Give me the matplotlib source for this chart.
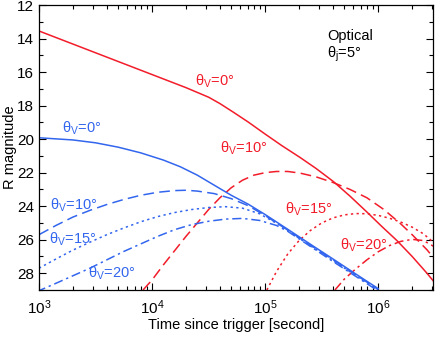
import numpy as np
import matplotlib
matplotlib.use("Agg")
import matplotlib.pyplot as plt
from matplotlib.ticker import MultipleLocator, LogLocator

plt.rcParams['font.family'] = ['Liberation Sans', 'DejaVu Sans']
plt.rcParams['mathtext.fontset'] = 'custom'
plt.rcParams['mathtext.rm'] = 'Liberation Sans'
plt.rcParams['mathtext.it'] = 'Liberation Sans'
plt.rcParams['mathtext.default'] = 'regular'

RED = '#f21c2a'
BLUE = '#3366ee'

# ---- data (log10 of time in seconds, R magnitude) ----
red0_logt = [3.0, 3.5, 4.0, 4.3, 4.5, 4.6, 4.72, 4.85, 5.0, 5.15, 5.31, 5.45, 5.605,
             5.75, 5.90, 6.03, 6.165, 6.3, 6.431, 6.504]
red0_mag = [13.55, 14.85, 16.15, 16.93, 17.5, 17.88, 18.4, 18.98, 19.7, 20.4, 21.1, 21.75, 22.54,
            23.4, 24.35, 25.2, 26.05, 27.0, 28.0, 28.6]

red10_logt = [3.92, 4.0, 4.1, 4.2, 4.3, 4.4, 4.5, 4.6, 4.7, 4.8, 4.9, 5.0, 5.1, 5.2, 5.31,
              5.45, 5.605, 5.75, 5.9, 6.05, 6.195, 6.3, 6.431, 6.504]
red10_mag = [29.0, 28.4, 27.5, 26.65, 25.8, 25.0, 24.2, 23.5, 22.9, 22.45, 22.15, 22.0, 21.93, 21.93, 22.03,
             22.25, 22.6, 23.0, 23.5, 24.2, 25.03, 25.7, 26.6, 27.2]

red15_logt = [5.015, 5.1, 5.2, 5.3, 5.4, 5.5, 5.6, 5.7, 5.8, 5.9, 6.0, 6.1, 6.2, 6.3, 6.4, 6.504]
red15_mag = [29.0, 27.9, 26.85, 26.05, 25.45, 25.0, 24.7, 24.52, 24.44, 24.45, 24.55, 24.72, 24.95,
             25.25, 25.65, 26.25]

red20_logt = [5.617, 5.7, 5.8, 5.9, 6.0, 6.1, 6.2, 6.3, 6.4, 6.504]
red20_mag = [29.0, 28.35, 27.75, 27.2, 26.72, 26.35, 26.1, 25.98, 26.05, 26.45]

blue0_logt = [3.0, 3.3, 3.5, 3.7, 3.9, 4.1, 4.25, 4.4, 4.55, 4.7, 4.85, 5.0, 5.2, 5.4, 5.6, 5.8, 6.0]
blue0_mag = [19.92, 20.05, 20.22, 20.48, 20.82, 21.25, 21.65, 22.15, 22.75, 23.35, 23.88, 24.5,
             25.38, 26.27, 27.15, 28.04, 28.92]

blue10_logt = [3.0, 3.15, 3.3, 3.45, 3.6, 3.75, 3.9, 4.05, 4.2, 4.3, 4.4, 4.55, 4.7, 4.85, 5.0,
               5.2, 5.4, 5.6, 5.8, 6.0]
blue10_mag = [25.7, 25.15, 24.65, 24.25, 23.9, 23.6, 23.35, 23.17, 23.07, 23.05, 23.1, 23.25, 23.55,
              23.97, 24.56, 25.43, 26.32, 27.2, 28.09, 28.97]

blue15_logt = [3.0, 3.15, 3.3, 3.45, 3.6, 3.75, 3.9, 4.05, 4.2, 4.35, 4.5, 4.65, 4.8, 4.95, 5.1,
               5.2, 5.4, 5.6, 5.8, 6.0]
blue15_mag = [27.7, 27.15, 26.62, 26.15, 25.7, 25.3, 24.93, 24.62, 24.38, 24.2, 24.08, 24.03, 24.12,
              24.45, 25.02, 25.46, 26.36, 27.25, 28.13, 29.02]

blue20_logt = [2.98, 3.15, 3.3, 3.45, 3.6, 3.75, 3.9, 4.05, 4.2, 4.35, 4.5, 4.65, 4.8, 4.95, 5.1,
               5.2, 5.4, 5.6, 5.8, 6.0]
blue20_mag = [29.1, 28.6, 28.15, 27.7, 27.2, 26.7, 26.25, 25.8, 25.4, 25.1, 24.9, 24.77, 24.73,
              24.85, 25.15, 25.5, 26.4, 27.3, 28.18, 29.06]

labels = ['θ$_V$=0°', 'θ$_V$=10°', 'θ$_V$=15°', 'θ$_V$=20°']

fig = plt.figure(figsize=(4.36, 3.38), dpi=100)
ax = fig.add_axes([39/436, 1-290/338, (433-39)/436, (290-5)/338])

lw = 1.1
styles = ['-', (0, (7, 3.5)), (0, (1.5, 2.2)), (0, (6, 2.5, 1.5, 2.5))]
red_series = [(red0_logt, red0_mag), (red10_logt, red10_mag),
              (red15_logt, red15_mag), (red20_logt, red20_mag)]
blue_series = [(blue0_logt, blue0_mag), (blue10_logt, blue10_mag),
               (blue15_logt, blue15_mag), (blue20_logt, blue20_mag)]
for (lt, m), ls in zip(red_series, styles):
    ax.plot(10**np.array(lt), m, color=RED, lw=lw, linestyle=ls)
for (lt, m), ls in zip(blue_series, styles):
    ax.plot(10**np.array(lt), m, color=BLUE, lw=lw, linestyle=ls)

ax.set_xscale('log')
ax.set_xlim(1e3, 3.05e6)
ax.set_ylim(29, 12)
ax.yaxis.set_major_locator(MultipleLocator(2))
ax.yaxis.set_minor_locator(MultipleLocator(1))
ax.xaxis.set_major_locator(LogLocator(base=10, numticks=10))
ax.xaxis.set_minor_locator(LogLocator(base=10, subs=np.arange(2, 10), numticks=20))
ax.tick_params(which='both', direction='in', top=True, right=True, labelsize=11)
ax.tick_params(which='major', length=5, width=0.8)
ax.tick_params(which='minor', length=3, width=0.8)
ax.tick_params(axis='x', pad=6)
for s in ax.spines.values():
    s.set_linewidth(0.9)

ax.set_xlabel('Time since trigger [second]', fontsize=10.5, labelpad=1)
ax.set_ylabel('R magnitude', fontsize=10.5, labelpad=0)

fs = 10.5
def px(x, y):
    return ((x-39)/(433-39), (290-y)/(290-5))

red_pos = [(215, 81), (244, 148), (309, 209), (364, 245)]
blue_pos = [(82, 128), (74, 205), (73, 239), (112, 273)]
for (x, y), t in zip(red_pos, labels):
    ax.text(*px(x, y), t, color=RED, fontsize=fs, ha='center', va='center', transform=ax.transAxes)
for (x, y), t in zip(blue_pos, labels):
    ax.text(*px(x, y), t, color=BLUE, fontsize=fs, ha='center', va='center', transform=ax.transAxes)

ax.text(*px(327, 36), 'Optical', fontsize=10.5, ha='left', va='center', transform=ax.transAxes)
ax.text(*px(327, 54), 'θ$_j$=5°', fontsize=10.5, ha='left', va='center', transform=ax.transAxes)

fig.savefig('out.png', dpi=100)
